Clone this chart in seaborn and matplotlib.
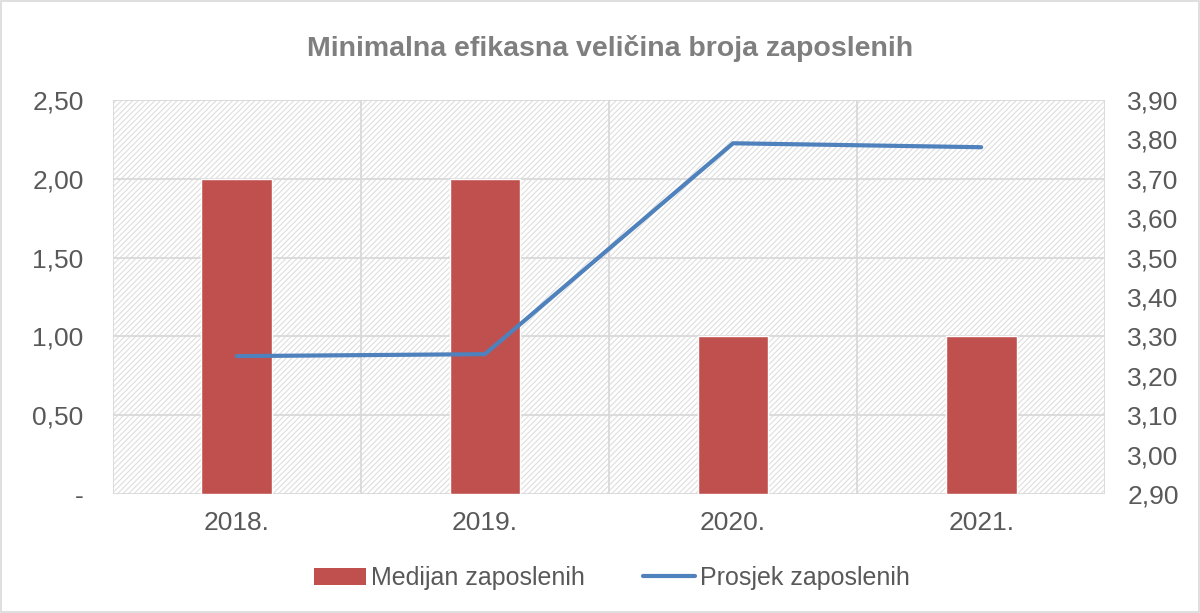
import numpy as np
import pandas as pd
import matplotlib
matplotlib.use('Agg')
import matplotlib.pyplot as plt
import seaborn as sns
from matplotlib.patches import Rectangle
from matplotlib.lines import Line2D
from matplotlib.patches import Patch

# Data
years = ['2018.', '2019.', '2020.', '2021.']
medijan = [2.0, 2.0, 1.0, 1.0]
prosjek = [3.25, 3.255, 3.79, 3.78]

sns.set_theme(style='white')
plt.rcParams['font.family'] = ['Liberation Sans', 'DejaVu Sans']
plt.rcParams['hatch.linewidth'] = 0.8

txt = '#595959'
title_col = '#7f7f7f'
grid = '#d9d9d9'
bar_col = '#c0504d'
line_col = '#4f81bd'

fig = plt.figure(figsize=(12, 6.13), dpi=100)
fig.patch.set_facecolor('white')
fig.add_artist(Rectangle((0.001, 0.001), 0.998, 0.997, transform=fig.transFigure,
                         fill=False, edgecolor=grid, linewidth=1.2))

ax = fig.add_axes([0.094, 0.194, 0.827, 0.643])
ax.set_facecolor('white')
ax.add_patch(Rectangle((0, 0), 1, 1, transform=ax.transAxes, facecolor='white',
                       edgecolor='#dedede', hatch='//////', linewidth=0, zorder=0))

df = pd.DataFrame({'year': years, 'medijan': medijan})
sns.barplot(data=df, x='year', y='medijan', color=bar_col, saturation=1,
            width=0.285, ax=ax, zorder=3)

ax.set_xlim(-0.5, 3.5)
ax.set_ylim(0, 2.5)
yt = np.arange(0, 2.51, 0.5)
ax.set_yticks(yt)
ax.set_yticklabels(['-'] + [f'{v:.2f}'.replace('.', ',') for v in yt[1:]])
ax.set_xticks(range(len(years)))
ax.set_xticklabels(years)
ax.set_xlabel('')
ax.set_ylabel('')

for v in yt:
    ax.axhline(v, color=grid, linewidth=1.3, zorder=1)
for xv in np.arange(-0.5, 3.6, 1):
    ax.axvline(xv, color=grid, linewidth=1.3, zorder=1)

for s in ax.spines.values():
    s.set_visible(False)
ax.tick_params(axis='both', length=0, labelsize=19, colors=txt)
ax.tick_params(axis='x', pad=12)
ax.tick_params(axis='y', pad=21)

ax2 = ax.twinx()
sns.lineplot(x=np.arange(len(years)), y=prosjek, ax=ax2, color=line_col,
             linewidth=3, solid_capstyle='round', zorder=4)
ax2.set_ylim(2.9, 3.9)
yt2 = np.arange(2.9, 3.91, 0.1)
ax2.set_yticks(yt2)
ax2.set_yticklabels([f'{v:.2f}'.replace('.', ',') for v in yt2])
for s in ax2.spines.values():
    s.set_visible(False)
ax2.tick_params(axis='y', length=0, labelsize=19, colors=txt, pad=16)
ax2.grid(False)
ax.set_xlim(-0.5, 3.5)

fig.text(0.508, 0.921, 'Minimalna efikasna veličina broja zaposlenih',
         ha='center', va='center', fontsize=20.5, fontweight='bold', color=title_col)

handles = [Patch(facecolor=bar_col, edgecolor='none'),
           Line2D([0], [0], color=line_col, linewidth=3, solid_capstyle='round')]
fig.legend(handles, ['Medijan zaposlenih', 'Prosjek zaposlenih'],
           loc='center', bbox_to_anchor=(0.51, 0.057), ncol=2, frameon=False,
           fontsize=18, labelcolor=txt, handlelength=2.1, handletextpad=0.2,
           columnspacing=2.3)

fig.savefig('out.png', dpi=100)
